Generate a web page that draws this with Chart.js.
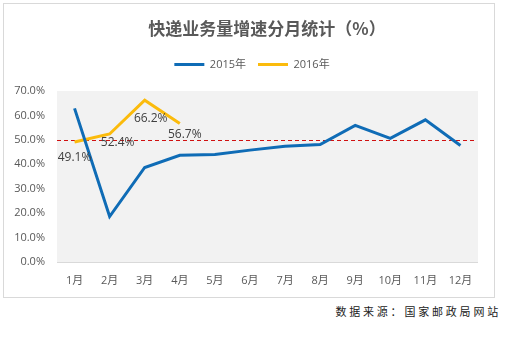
<!DOCTYPE html>
<html><head><meta charset="utf-8">
<script src="https://cdn.jsdelivr.net/npm/chart.js@4"></script>
<style>
html,body{margin:0;padding:0;background:#fff;}
#box{position:absolute;left:3px;top:3px;width:490px;height:293px;border:1px solid #d9d9d9;}
#title{position:absolute;left:0;top:15px;width:534px;text-align:center;font:bold 17px "Noto Sans CJK SC",sans-serif;color:#595959;}
#src{position:absolute;right:5px;top:303px;font:11px "Noto Sans CJK SC",sans-serif;color:#222;letter-spacing:2.8px;}
canvas{position:absolute;left:0;top:0;}
</style></head><body>
<div id="box"><canvas id="c" width="490" height="293"></canvas></div>
<div id="title">快递业务量增速分月统计（%）</div>
<div id="src">数据来源：国家邮政局网站</div>
<script>
const categories=['1月','2月','3月','4月','5月','6月','7月','8月','9月','10月','11月','12月'];
const series2015=[62.9,18.6,38.7,43.7,44.0,45.8,47.4,48.1,55.9,50.6,58.2,47.7];
const series2016=[49.1,52.4,66.2,56.7];
const yTicks=[0,10,20,30,40,50,60,70];
const referenceLine=50;

const bgPlugin={id:'bg',beforeDraw(ch){const a=ch.chartArea,c=ch.ctx;c.save();c.fillStyle='#f2f2f2';c.fillRect(a.left,a.top,a.right-a.left,a.bottom-a.top);c.strokeStyle='#d9d9d9';c.lineWidth=1;c.beginPath();c.moveTo(a.left,a.bottom+0.5);c.lineTo(a.right,a.bottom+0.5);c.stroke();c.restore();}};
const refPlugin={id:'ref',beforeDatasetsDraw(ch){const a=ch.chartArea,c=ch.ctx,y=Math.round(ch.scales.y.getPixelForValue(referenceLine))+0.5;c.save();c.strokeStyle='#d01010';c.lineWidth=1;c.setLineDash([4,3]);c.beginPath();c.moveTo(a.left,y);c.lineTo(a.right-3,y);c.stroke();c.restore();}};
const labelOffsets=[[0,16],[8,9],[6,18],[5,11]];
const lblPlugin={id:'lbl',afterDatasetsDraw(ch){const c=ch.ctx,meta=ch.getDatasetMeta(1);c.save();c.font='12px "Open Sans","DejaVu Sans",sans-serif';c.fillStyle='#404040';c.textAlign='center';c.textBaseline='middle';meta.data.forEach((p,i)=>{const o=labelOffsets[i];c.fillText(series2016[i].toFixed(1)+'%',p.x+o[0],p.y+o[1]);});c.restore();}};
const legendShift={id:'legendShift',afterLayout(ch){const l=ch.legend;l.left+=11;l.right+=11;l.top-=11;l.bottom-=11;}};

new Chart(document.getElementById('c'),{
type:'line',
data:{labels:categories,datasets:[
{label:'2015年',data:series2015,borderColor:'#0f6cb6',backgroundColor:'#0f6cb6',borderWidth:3,pointRadius:0,tension:0},
{label:'2016年',data:series2016,borderColor:'#fbbb0c',backgroundColor:'#fbbb0c',borderWidth:3,pointRadius:0,tension:0}
]},
options:{responsive:false,animation:false,
layout:{padding:{left:0,right:16,top:54,bottom:0}},
plugins:{legend:{display:true,labels:{usePointStyle:true,pointStyle:'line',pointStyleWidth:30,boxHeight:3,font:{size:11,family:'"Open Sans","Noto Sans CJK SC",sans-serif'},color:'#595959',padding:12}},tooltip:{enabled:false}},
scales:{
x:{offset:true,afterFit(s){s.height=35;},grid:{display:false,drawTicks:false},border:{display:false},ticks:{color:'#595959',font:{size:11,family:'"Open Sans","Noto Sans CJK SC",sans-serif'},padding:12,maxRotation:0,autoSkip:false}},
y:{min:0,max:70,afterBuildTicks(s){s.ticks=yTicks.map(v=>({value:v}));},afterFit(s){s.width=53;},grid:{display:false,drawTicks:false},border:{display:false},ticks:{color:'#595959',font:{size:11,family:'"Open Sans",sans-serif'},padding:12,callback:v=>v.toFixed(1)+'%'}}
}},
plugins:[bgPlugin,refPlugin,lblPlugin,legendShift]
});
</script></body></html>
